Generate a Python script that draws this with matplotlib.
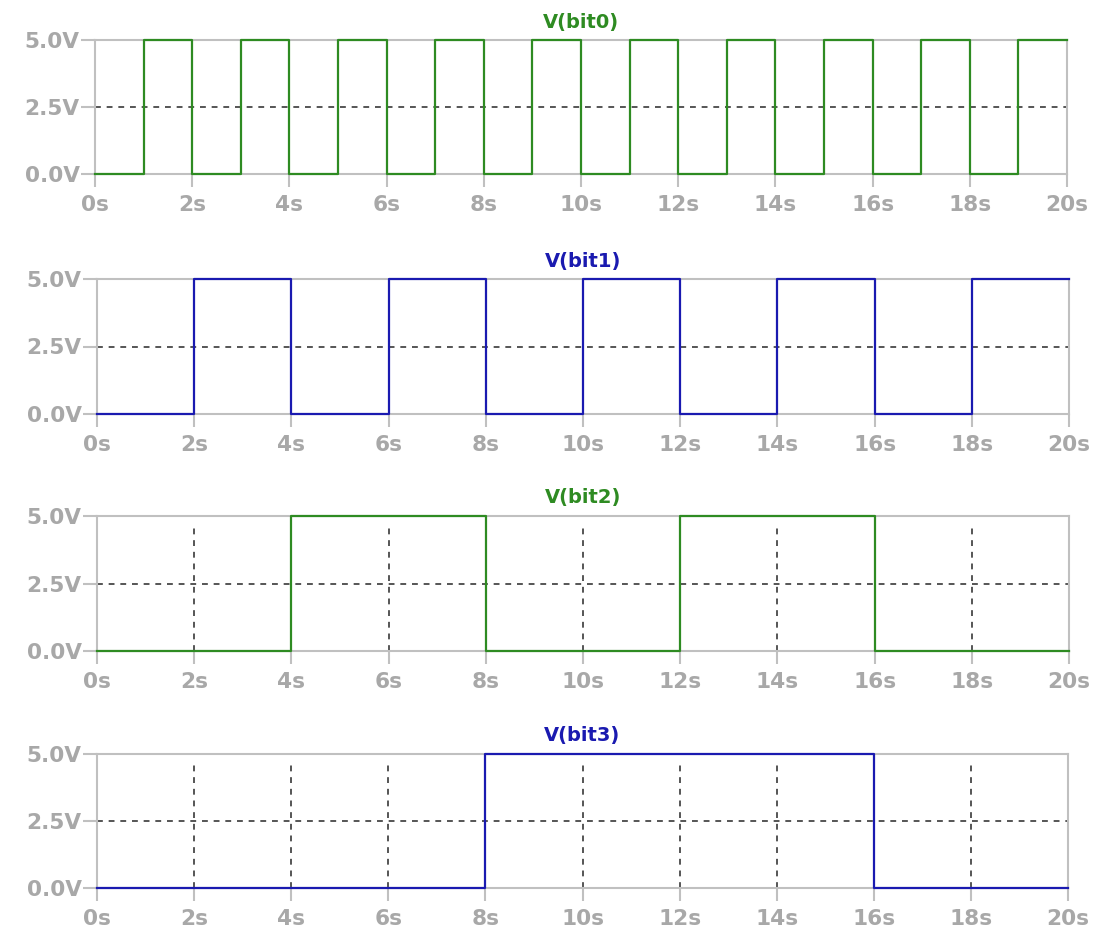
import matplotlib
matplotlib.use("Agg")
import matplotlib.pyplot as plt
from matplotlib import font_manager
import numpy as np

# Sample times (seconds) and logic levels (volts) held from each time to the next
time_s = list(range(0, 21))
bit0 = [0, 5, 0, 5, 0, 5, 0, 5, 0, 5, 0, 5, 0, 5, 0, 5, 0, 5, 0, 5, 5]
bit1 = [0, 0, 5, 5, 0, 0, 5, 5, 0, 0, 5, 5, 0, 0, 5, 5, 0, 0, 5, 5, 5]
bit2 = [0, 0, 0, 0, 5, 5, 5, 5, 0, 0, 0, 0, 5, 5, 5, 5, 0, 0, 0, 0, 0]
bit3 = [0, 0, 0, 0, 0, 0, 0, 0, 5, 5, 5, 5, 5, 5, 5, 5, 0, 0, 0, 0, 0]

titles = ["V(bit0)", "V(bit1)", "V(bit2)", "V(bit3)"]
series = [bit0, bit1, bit2, bit3]
x_ticks = list(range(0, 21, 2))
x_tick_labels = [f"{t}s" for t in x_ticks]
y_ticks = [0.0, 2.5, 5.0]
y_tick_labels = ["0.0V", "2.5V", "5.0V"]

GREEN = "#2e8b22"
BLUE = "#1a1ab0"
FRAME = "#c0c0c0"
LABEL = "#a8a8a8"
GRID = "#555555"
colors = [GREEN, BLUE, GREEN, BLUE]

# Prefer a narrow face for the tick labels when one is installed
installed = {f.name for f in font_manager.fontManager.ttflist}
if "Liberation Sans Narrow" in installed:
    label_font = dict(family="Liberation Sans Narrow", weight="bold", size=17.5)
else:
    label_font = dict(family="DejaVu Sans", weight="bold", size=15.6)

W, H = 1102, 933
fig = plt.figure(figsize=(W / 100, H / 100), dpi=100)

# pixel boxes: (left, right, top, bottom)
boxes = [(95, 1067, 40, 174), (97, 1069, 279, 414), (97, 1069, 516, 651), (97, 1068, 754, 888)]

for box, title, vals, col in zip(boxes, titles, series, colors):
    l, r, t, b = box
    ax = fig.add_axes([l / W, 1 - b / H, (r - l) / W, (b - t) / H])
    ax.set_xlim(0, 20)
    ax.set_ylim(0, 5)

    # dashed grid at interior ticks
    ax.axhline(2.5, color=GRID, lw=1.4, ls=(0, (3, 3)), zorder=1)
    for xt in x_ticks[1:-1]:
        ax.axvline(xt, color=GRID, lw=1.4, ls=(0, (3, 3)), ymax=0.95, zorder=1)

    ax.step(time_s, vals, where="post", color=col, lw=1.6, zorder=3, clip_on=False)

    for s in ax.spines.values():
        s.set_color(FRAME)
        s.set_linewidth(1.5)
        s.set_zorder(2)

    ax.set_xticks(x_ticks)
    ax.set_xticklabels(x_tick_labels, fontdict=label_font, color=LABEL)
    ax.set_yticks(y_ticks)
    ax.set_yticklabels(y_tick_labels, fontdict=label_font, color=LABEL)
    ax.tick_params(axis="x", length=9, width=1.5, color=FRAME, pad=6)
    ax.tick_params(axis="y", length=10, width=1.5, color=FRAME, pad=1)

    ax.set_title(title, color=col, fontsize=14, fontweight="bold",
                 family="DejaVu Sans", pad=9)

fig.savefig("out.png", dpi=100, facecolor="white")
